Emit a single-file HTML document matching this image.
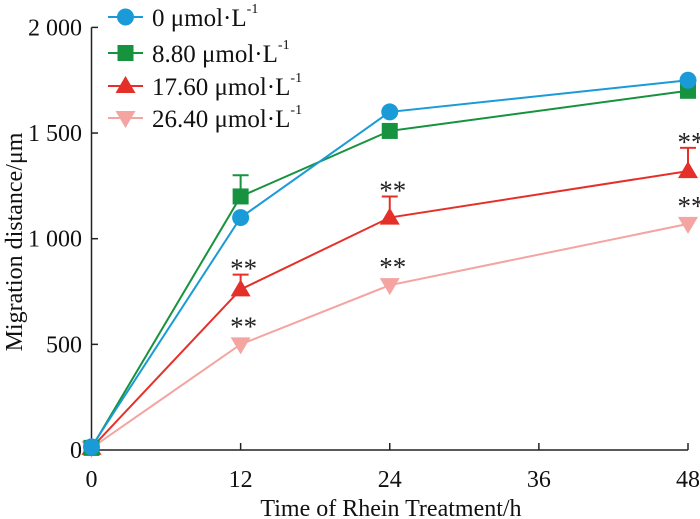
<!DOCTYPE html>
<html><head><meta charset="utf-8"><style>
html,body{margin:0;padding:0;background:#fff}
svg{display:block;font-family:"Liberation Serif",serif}
</style></head><body>
<svg id="chart" width="700" height="519" viewBox="0 0 700 519" xmlns="http://www.w3.org/2000/svg">
<g id="axes"></g>
<g id="series"></g>
<g id="legend"></g>
</svg>
<script>
const xTicks = [0, 12, 24, 36, 48];
const yTicks = [0, 500, 1000, 1500, 2000];
const yTickLabels = ["0", "500", "1 000", "1 500", "2 000"];
const times = [0, 12, 24, 48];
const s0 = [15, 1100, 1600, 1750];
const s1 = [10, 1200, 1510, 1700];
const s2 = [10, 760, 1100, 1320];
const s3 = [10, 500, 780, 1070];
const err1 = [0, 100, 0, 0];
const err2 = [0, 70, 100, 110];
const err3 = [0, 0, 0, 0];
const err0 = [0, 0, 0, 0];
const stars2 = [false, true, true, true];
const stars3 = [false, true, true, true];
const names = ["0 μmol·L", "8.80 μmol·L", "17.60 μmol·L", "26.40 μmol·L"];

const NS = "http://www.w3.org/2000/svg";
const X = t => 91.5 + t * (688 - 91.5) / 48;
const Y = v => 450 - v * 0.2113;
function mk(tag, attrs, parent) {
  const e = document.createElementNS(NS, tag);
  for (const k in attrs) e.setAttribute(k, attrs[k]);
  parent.appendChild(e);
  return e;
}
const axes = document.getElementById('axes');
let el = mk('line', {x1: 91.5, y1: Y(2000), x2: 91.5, y2: 450, stroke: '#222', 'stroke-width': 1.5}, axes);


el = mk('line', {x1: 91.5, y1: 450, x2: 688, y2: 450, stroke: '#222', 'stroke-width': 1.5}, axes);


yTicks.forEach((v, i) => {
  mk('line', {x1: 91.5, y1: Y(v), x2: 98, y2: Y(v), stroke: '#222', 'stroke-width': 1.5}, axes);
  const t = mk('text', {x: 82, y: Y(v) + 8, 'text-anchor': 'end', 'font-size': 24, fill: '#111'}, axes);
  t.textContent = yTickLabels[i];
  
  
});
xTicks.forEach(v => {
  mk('line', {x1: X(v), y1: 450, x2: X(v), y2: 443, stroke: '#222', 'stroke-width': 1.5}, axes);
  const t = mk('text', {x: X(v), y: 487, 'text-anchor': 'middle', 'font-size': 24, fill: '#111'}, axes);
  t.textContent = v;
  
  
});
el = mk('text', {x: 391, y: 516, 'text-anchor': 'middle', 'font-size': 24, fill: '#111'}, axes);
el.textContent = 'Time of Rhein Treatment/h';


el = mk('text', {x: 0, y: 0, 'text-anchor': 'middle', 'font-size': 24, fill: '#111', transform: 'translate(22,242) rotate(-90)'}, axes);
el.textContent = 'Migration distance/μm';



const series = [
  {vals: s0, err: err0, stars: null, color: '#1a9bd7', shape: 'circle'},
  {vals: s1, err: err1, stars: null, color: '#17923e', shape: 'square'},
  {vals: s2, err: err2, stars: stars2, color: '#e5302a', shape: 'up'},
  {vals: s3, err: err3, stars: stars3, color: '#f4a4a1', shape: 'down'}
];
function marker(shape, cx, cy, color, parent) {
  let m;
  if (shape === 'circle') m = mk('circle', {cx, cy, r: 8.5, fill: color}, parent);
  else if (shape === 'square') m = mk('rect', {x: cx - 8, y: cy - 8, width: 16, height: 16, fill: color}, parent);
  else if (shape === 'up') m = mk('polygon', {points: `${cx},${cy - 10} ${cx - 10},${cy + 7} ${cx + 10},${cy + 7}`, fill: color}, parent);
  else m = mk('polygon', {points: `${cx},${cy + 10} ${cx - 10},${cy - 7} ${cx + 10},${cy - 7}`, fill: color}, parent);
  return m;
}
const sg = document.getElementById('series');
[3, 2, 1, 0].forEach(si => {
  const s = series[si];
  const g = mk('g', {}, sg);
  
  
  const pts = times.map((t, i) => X(t) + ',' + Y(s.vals[i])).join(' ');
  const pl = mk('polyline', {points: pts, fill: 'none', stroke: s.color, 'stroke-width': 2}, g);
  
  
  times.forEach((t, i) => {
    const cx = X(t), cy = Y(s.vals[i]);
    let top = cy;
    if (s.err[i] > 0) {
      top = Y(s.vals[i] + s.err[i]);
      mk('line', {x1: cx, y1: cy, x2: cx, y2: top, stroke: s.color, 'stroke-width': 2}, g);
      mk('line', {x1: cx - 8, y1: top, x2: cx + 8, y2: top, stroke: s.color, 'stroke-width': 2}, g);
    }
    const m = marker(s.shape, cx, cy, s.color, g);
    
    
    if (s.stars && s.stars[i]) {
      const st = mk('text', {x: cx + 3, y: Math.min(top, cy - 12) + 3, 'text-anchor': 'middle', 'font-size': 27, fill: '#222'}, g);
      st.textContent = '**';
      
      
    }
  });
});

const lg = document.getElementById('legend');
const rows = [17, 53, 86, 118];
series.forEach((s, i) => {
  const g = mk('g', {}, lg);
  
  
  mk('line', {x1: 108, y1: rows[i], x2: 143, y2: rows[i], stroke: s.color, 'stroke-width': 2}, g);
  marker(s.shape, 125.5, rows[i], s.color, g);
  const t = mk('text', {x: 152, y: rows[i] + 9, 'font-size': 25, fill: '#111'}, g);
  t.textContent = names[i];
  const sup = mk('tspan', {dy: -13, 'font-size': 14}, t);
  sup.textContent = '-1';
});
</script>
</body></html>
